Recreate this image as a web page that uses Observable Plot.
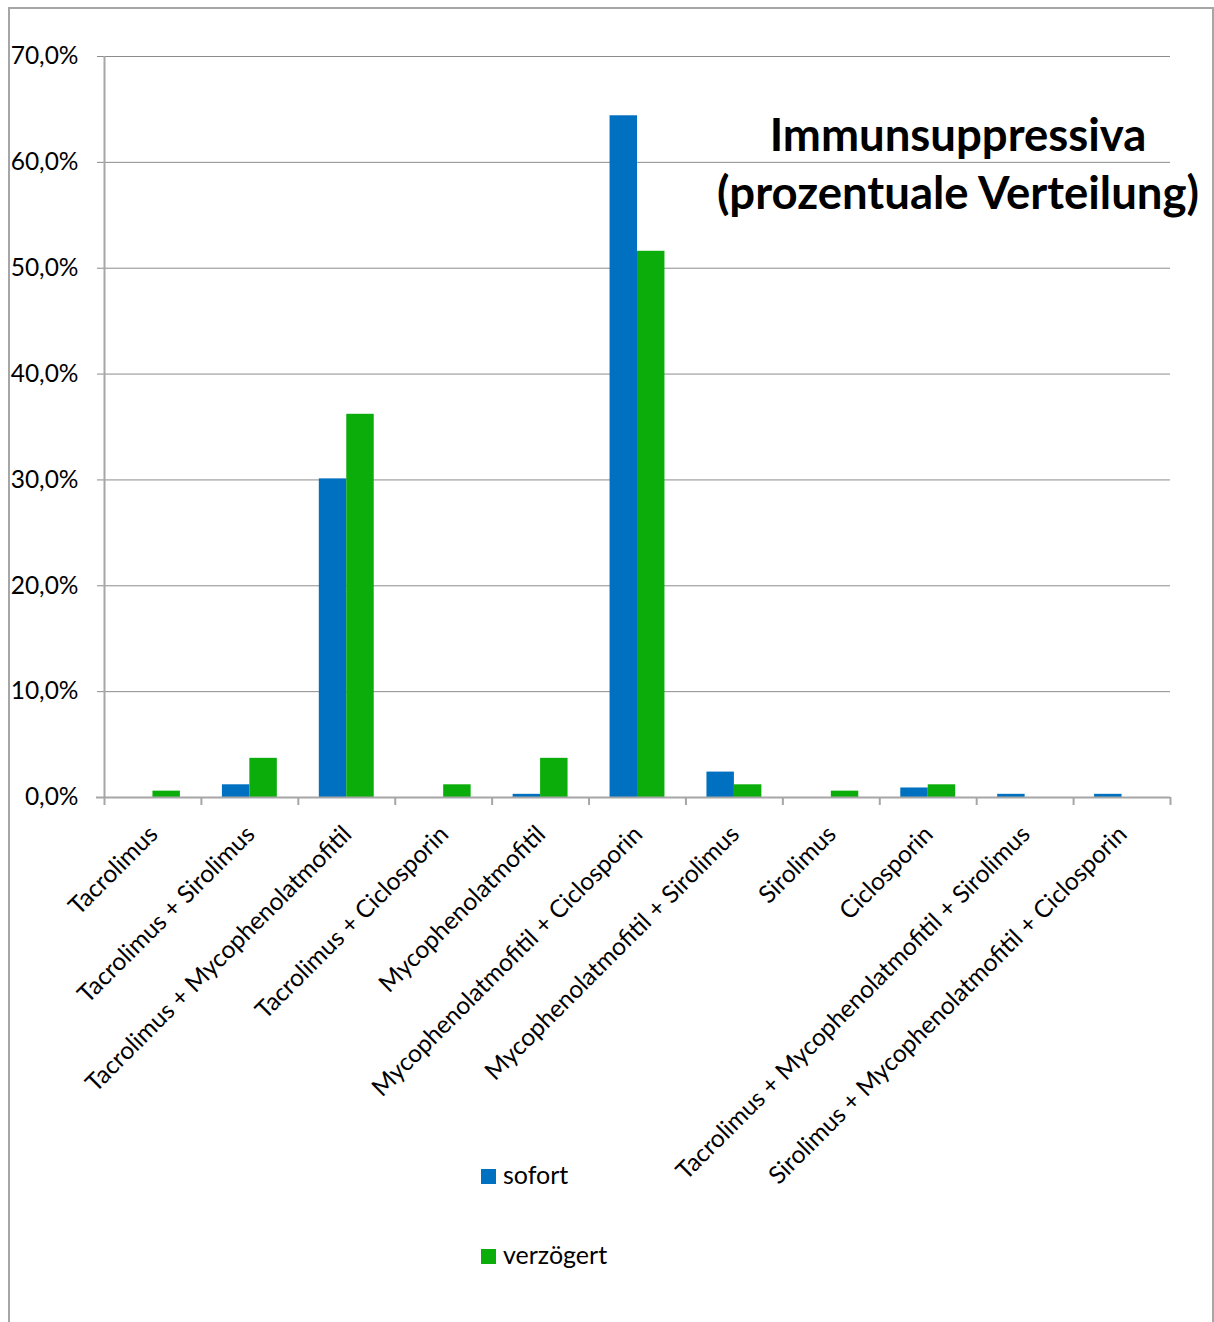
<!DOCTYPE html>
<html lang="de">
<head>
<meta charset="utf-8">
<script src="https://cdn.jsdelivr.net/npm/d3@7"></script>
<script src="https://cdn.jsdelivr.net/npm/@observablehq/plot@0.6"></script>
<style>
  html, body { margin: 0; padding: 0; background: #fff; }
  body { width: 1214px; height: 1322px; position: relative; overflow: hidden; font-family: Lato, "Open Sans", sans-serif; }
  #frame { position: absolute; left: 8px; top: 7px; width: 1206px; height: 1400px;
           border: 2px solid #a6a6a6; border-bottom: none; box-sizing: border-box; pointer-events: none; }
  #chart { position: absolute; left: 0; top: 0; }
  #title { position: absolute; left: 608px; width: 700px; top: 105px; text-align: center;
           font-weight: 700; font-size: 45.5px; line-height: 58px; color: #000; }
  .legend-item { position: absolute; left: 481px; font-size: 25px; line-height: 30px; color: #000; white-space: nowrap; }
  .legend-item span.sw { display: inline-block; width: 15px; height: 15px; margin-right: 7px; vertical-align: 0px; }
</style>
</head>
<body>
<div id="chart"></div>
<div id="title">Immunsuppressiva<br>(prozentuale Verteilung)</div>
<div id="legend"></div>
<div id="frame"></div>
<script>
// Kategorien (Immunsuppressiva-Kombinationen)
const categories = [
  "Tacrolimus",
  "Tacrolimus + Sirolimus",
  "Tacrolimus + Mycophenolatmofitil",
  "Tacrolimus + Ciclosporin",
  "Mycophenolatmofitil",
  "Mycophenolatmofitil + Ciclosporin",
  "Mycophenolatmofitil + Sirolimus",
  "Sirolimus",
  "Ciclosporin",
  "Tacrolimus + Mycophenolatmofitil + Sirolimus",
  "Sirolimus + Mycophenolatmofitil + Ciclosporin"
];

// Serien
const seriesNames = ["sofort", "verzögert"];
const seriesColors = ["#0070c0", "#0bad0b"];

// Anteile in Prozent
const sofortValues    = [0.0, 1.2, 30.1, 0.0, 0.3, 64.4, 2.4, 0.0, 0.9, 0.3, 0.3];
const verzoegertValues = [0.6, 3.7, 36.2, 1.2, 3.7, 51.6, 1.2, 0.6, 1.2, 0.0, 0.0];

// Achsenbeschriftung y
const yTicks = [0, 10, 20, 30, 40, 50, 60, 70];
const fmtPct = d => d.toFixed(1).replace(".", ",") + "%";

const rows = [];
categories.forEach((c, i) => {
  rows.push({category: c, series: seriesNames[0], value: sofortValues[i]});
  rows.push({category: c, series: seriesNames[1], value: verzoegertValues[i]});
});

const W = 1214, H = 1322;
const mL = 104, mR = 44, mT = 56, mB = 525;
const bw = (W - mL - mR) / categories.length;   // Breite eines Kategorie-Bands
const gap = 21;                                  // Abstand Balkengruppe zum Bandrand
const half = bw / 2;

const grid = "#8c8c8c";
const axisColor = "#a6a6a6";

const chart = Plot.plot({
  width: W,
  height: H,
  marginLeft: mL,
  marginRight: mR,
  marginTop: mT,
  marginBottom: mB,
  style: {fontFamily: "Lato, 'Open Sans', sans-serif", fontSize: "25px", color: "#000", background: "transparent"},
  x: {domain: categories, padding: 0, round: false, axis: null},
  y: {domain: [0, 70], axis: null},
  color: {domain: seriesNames, range: seriesColors},
  marks: [
    // Gitterlinien mit kurzen Teilstrichen links
    Plot.ruleY(yTicks.filter(d => d > 0), {y: d => d, stroke: grid, strokeWidth: 1, insetLeft: -7}),
    // y-Achsenbeschriftung
    Plot.text(yTicks, {y: d => d, text: fmtPct, frameAnchor: "left", textAnchor: "end", dx: -26, fill: "#000", fontSize: 24.5}),
    // Balken
    Plot.barY(rows.filter(d => d.series === seriesNames[0]), {
      x: "category", y: "value", fill: "series", insetLeft: gap, insetRight: half
    }),
    Plot.barY(rows.filter(d => d.series === seriesNames[1]), {
      x: "category", y: "value", fill: "series", insetLeft: half, insetRight: gap
    }),
    // y-Achse
    Plot.ruleX([categories[0]], {x: d => d, dx: -half, y1: 0, y2: 70, stroke: axisColor, strokeWidth: 2}),
    // x-Achse
    Plot.ruleY([0], {y: d => d, stroke: axisColor, strokeWidth: 2, insetLeft: -8}),
    // Teilstriche an den Kategoriegrenzen
    Plot.ruleX(categories, {x: d => d, dx: -half, y1: 0, y2: 0, insetTop: 8, stroke: axisColor, strokeWidth: 2}),
    Plot.ruleX([categories[categories.length - 1]], {x: d => d, dx: half, y1: 0, y2: 0, insetTop: 8, stroke: axisColor, strokeWidth: 2}),
    // Kategorienbeschriftung, gedreht
    Plot.text(categories, {
      x: d => d, text: d => d, frameAnchor: "bottom", rotate: -45,
      textAnchor: "end", lineAnchor: "top", dx: -6, dy: 26, fill: "#000", fontSize: 24.5
    })
  ]
});
document.getElementById("chart").appendChild(chart);

// Legende
const legend = document.getElementById("legend");
const legendTops = [1159, 1239];
seriesNames.forEach((name, i) => {
  const item = document.createElement("div");
  item.className = "legend-item";
  item.style.top = legendTops[i] + "px";
  const sw = document.createElement("span");
  sw.className = "sw";
  sw.style.background = seriesColors[i];
  item.appendChild(sw);
  item.appendChild(document.createTextNode(name));
  legend.appendChild(item);
});
</script>
</body>
</html>
